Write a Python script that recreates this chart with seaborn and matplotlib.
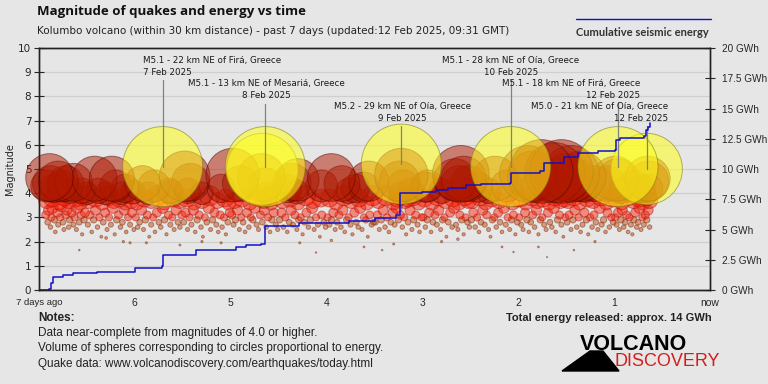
import numpy as np
import pandas as pd
import seaborn as sns
import matplotlib.pyplot as plt
from matplotlib.lines import Line2D
from matplotlib.patches import Polygon

# --- data (time in days relative to "now" = 12 Feb 2025 09:31 GMT) ---

# labelled M5+ quakes
label_t = [-5.71, -4.64, -3.22, -2.08, -0.96, -0.66]
label_m = [5.1, 5.1, 5.2, 5.1, 5.1, 5.0]
label_place = ["22 km NE of Firá", "13 km NE of Mesariá", "29 km NE of Oía",
               "28 km NE of Oía", "18 km NE of Firá", "21 km NE of Oía"]
label_date = ["7 Feb 2025", "8 Feb 2025", "9 Feb 2025",
              "10 Feb 2025", "12 Feb 2025", "12 Feb 2025"]

# other M5 quake (unlabelled)
strong_t = [-4.67]
strong_m = [5.0]

# M4 - M5
large_t = [-6.92, -6.89, -6.88, -6.85, -6.80, -6.76, -6.72, -6.68, -6.64, -6.50,
           -6.42, -6.38, -6.30, -6.24, -6.20, -6.14, -6.02, -5.92, -5.86, -5.80,
           -5.64, -5.62, -5.48, -5.42, -5.45, -5.30, -4.98, -4.90, -4.68, -4.64,
           -4.62, -4.41, -4.36, -4.31, -4.30, -3.95, -3.84, -3.77, -3.61, -3.56,
           -3.24, -3.22, -3.20, -3.23, -3.12, -2.97, -2.95, -2.60, -2.66, -2.62,
           -2.52, -2.42, -2.31, -2.24, -2.12, -1.90, -1.82, -1.76, -1.65, -1.55,
           -1.50, -1.40, -1.30, -1.20, -1.07, -0.99, -0.96, -0.93, -0.65, -0.64,
           -0.64, -1.85, -1.62, -1.45, -1.35, -2.57, -4.05, -5.10, -6.10, -6.55,
           -3.70, -2.80, -0.80, -0.72]
large_m = [4.3, 4.65, 4.4, 4.2, 4.5, 4.3, 4.4, 4.1, 4.45, 4.0,
           4.6, 4.1, 4.0, 4.6, 4.3, 4.0, 4.05, 4.4, 4.0, 4.3,
           4.1, 4.05, 4.7, 4.45, 4.1, 4.0, 4.75, 4.4, 4.65, 4.35,
           4.0, 4.2, 4.45, 4.05, 4.55, 4.65, 4.4, 4.1, 4.25, 4.5,
           4.5, 4.75, 4.3, 4.0, 4.1, 4.25, 4.3, 4.8, 4.55, 4.4,
           4.4, 4.25, 4.1, 4.6, 4.3, 4.8, 4.25, 4.9, 4.4, 4.9,
           4.65, 4.55, 4.25, 4.4, 4.4, 4.6, 4.55, 4.1, 4.6, 4.5,
           4.2, 4.7, 4.85, 4.8, 4.7, 4.6, 4.3, 4.2, 4.2, 4.1,
           4.2, 4.1, 4.3, 4.2]

# M3.5 - M4
mid_t = [-6.92, -6.86, -6.79, -6.74, -6.69, -6.62, -6.57, -6.53,
         -6.48, -6.41, -6.34, -6.28, -6.22, -6.16, -6.10, -6.04,
         -5.98, -5.90, -5.83, -5.76, -5.69, -5.60, -5.53,
         -5.46, -5.38, -5.30, -5.22, -5.14, -5.06, -5.02,
         -4.96, -4.88, -4.80, -4.72, -4.66, -4.60, -4.58, -4.54, -4.62, -4.68,
         -4.46, -4.38, -4.30, -4.22, -4.14, -4.06,
         -3.97, -3.90, -3.82, -3.74, -3.66, -3.58, -3.52,
         -3.46, -3.38, -3.30, -3.26, -3.18, -3.10, -3.04, -3.15,
         -2.98, -2.90, -2.84, -2.76, -2.68, -2.62, -2.56, -2.52,
         -2.48, -2.40, -2.34, -2.28, -2.20, -2.14, -2.06, -2.02,
         -1.98, -1.92, -1.86, -1.80, -1.74, -1.68, -1.62, -1.56, -1.52,
         -1.48, -1.42, -1.36, -1.28, -1.22, -1.14, -1.08, -1.02,
         -0.98, -0.92, -0.86, -0.80, -0.74, -0.70, -0.66, -0.63]
mid_m = [3.7, 3.8, 3.6, 3.9, 3.7, 3.8, 3.6, 3.9,
         3.7, 3.8, 3.6, 3.9, 3.7, 3.8, 3.6, 3.7,
         3.6, 3.8, 3.7, 3.9, 3.6, 3.8, 3.7,
         3.8, 3.6, 3.7, 3.9, 3.7, 3.8, 3.6,
         3.7, 3.8, 3.6, 3.9, 3.7, 3.8, 3.6, 3.9, 3.9, 3.8,
         3.7, 3.8, 3.6, 3.9, 3.7, 3.8,
         3.8, 3.6, 3.9, 3.7, 3.8, 3.6, 3.9,
         3.7, 3.9, 3.6, 3.8, 3.7, 3.9, 3.6, 3.8,
         3.8, 3.6, 3.9, 3.7, 3.8, 3.6, 3.9, 3.7,
         3.7, 3.9, 3.6, 3.8, 3.7, 3.9, 3.6, 3.8,
         3.8, 3.6, 3.9, 3.7, 3.8, 3.6, 3.9, 3.7, 3.8,
         3.7, 3.9, 3.6, 3.8, 3.7, 3.9, 3.6, 3.8,
         3.8, 3.6, 3.9, 3.7, 3.8, 3.6, 3.9, 3.7]

# below M3.5
small_t = [-6.93, -6.91, -6.90, -6.88, -6.87, -6.86, -6.84, -6.83, -6.81, -6.80,
           -6.78, -6.77, -6.75, -6.74, -6.72, -6.71, -6.69, -6.68, -6.66, -6.64,
           -6.63, -6.61, -6.60, -6.58, -6.56, -6.55, -6.53, -6.52,
           -6.49, -6.47, -6.45, -6.43, -6.41, -6.39, -6.37, -6.35, -6.33, -6.31,
           -6.29, -6.27, -6.25, -6.23, -6.21, -6.19, -6.17, -6.15, -6.13, -6.11,
           -6.09, -6.07, -6.05, -6.03, -6.01,
           -5.99, -5.97, -5.95, -5.93, -5.91, -5.89, -5.87, -5.85, -5.83, -5.81,
           -5.79, -5.77, -5.75, -5.73, -5.71, -5.69, -5.67, -5.65, -5.63, -5.61,
           -5.59, -5.57, -5.55, -5.53, -5.51,
           -5.49, -5.47, -5.45, -5.43, -5.41, -5.39, -5.37, -5.35, -5.33, -5.31,
           -5.29, -5.27, -5.25, -5.23, -5.21, -5.19, -5.17, -5.15, -5.13, -5.11,
           -5.09, -5.07, -5.05, -5.03, -5.01,
           -4.99, -4.97, -4.95, -4.93, -4.91, -4.89, -4.87, -4.85, -4.83, -4.81,
           -4.79, -4.77, -4.75, -4.73, -4.71, -4.69, -4.67, -4.65, -4.63, -4.61,
           -4.59, -4.57, -4.55, -4.53, -4.51,
           -4.49, -4.47, -4.45, -4.43, -4.41, -4.39, -4.37, -4.35, -4.33, -4.31,
           -4.29, -4.27, -4.25, -4.23, -4.21, -4.19, -4.17, -4.15, -4.13, -4.11,
           -4.09, -4.07, -4.05, -4.03, -4.01,
           -3.99, -3.97, -3.95, -3.93, -3.91, -3.89, -3.87, -3.85, -3.83, -3.81,
           -3.79, -3.77, -3.75, -3.73, -3.71, -3.69, -3.67, -3.65, -3.63, -3.61,
           -3.59, -3.57, -3.55, -3.53, -3.51,
           -3.49, -3.47, -3.45, -3.43, -3.41, -3.39, -3.37, -3.35, -3.33, -3.31,
           -3.29, -3.27, -3.25, -3.23, -3.21, -3.19, -3.17, -3.15, -3.13, -3.11,
           -3.09, -3.07, -3.05, -3.03, -3.01,
           -2.99, -2.97, -2.95, -2.93, -2.91, -2.89, -2.87, -2.85, -2.83, -2.81,
           -2.79, -2.77, -2.75, -2.73, -2.71, -2.69, -2.67, -2.65, -2.63, -2.61,
           -2.59, -2.57, -2.55, -2.53, -2.51,
           -2.49, -2.47, -2.45, -2.43, -2.41, -2.39, -2.37, -2.35, -2.33, -2.31,
           -2.29, -2.27, -2.25, -2.23, -2.21, -2.19, -2.17, -2.15, -2.13, -2.11,
           -2.09, -2.07, -2.05, -2.03, -2.01,
           -1.99, -1.97, -1.95, -1.93, -1.91, -1.89, -1.87, -1.85, -1.83, -1.81,
           -1.79, -1.77, -1.75, -1.73, -1.71, -1.69, -1.67, -1.65, -1.63, -1.61,
           -1.59, -1.57, -1.55, -1.53, -1.51,
           -1.49, -1.47, -1.45, -1.43, -1.41, -1.39, -1.37, -1.35, -1.33, -1.31,
           -1.29, -1.27, -1.25, -1.23, -1.21, -1.19, -1.17, -1.15, -1.13, -1.11,
           -1.09, -1.07, -1.05, -1.03, -1.01,
           -0.99, -0.975, -0.96, -0.945, -0.93, -0.915, -0.90, -0.885, -0.87, -0.855,
           -0.84, -0.825, -0.81, -0.795, -0.78, -0.765, -0.75, -0.735, -0.72, -0.705,
           -0.69, -0.675, -0.66, -0.645, -0.63]
small_m = [3.1, 2.8, 3.3, 2.6, 3.0, 3.4, 2.9, 2.4, 3.2, 2.7,
           3.0, 3.5, 2.8, 2.5, 3.1, 3.3, 2.6, 2.9, 3.2, 2.7,
           3.0, 2.5, 3.4, 2.8, 3.1, 2.3, 2.9, 3.2,
           2.7, 3.1, 2.4, 2.9, 3.3, 2.6, 3.0, 2.2, 2.8, 3.2,
           2.5, 3.0, 2.7, 3.4, 2.3, 2.9, 3.1, 2.6, 2.8, 3.3,
           2.4, 3.0, 2.7, 3.2, 2.5,
           3.0, 2.6, 2.8, 3.3, 2.5, 2.9, 3.1, 2.2, 2.7, 3.0,
           2.4, 3.2, 2.8, 2.6, 3.4, 2.9, 2.3, 3.1, 2.7, 3.0,
           2.5, 3.3, 2.8, 2.6, 3.1,
           2.8, 3.2, 2.5, 3.0, 2.7, 3.3, 2.4, 2.9, 3.1, 2.6,
           2.2, 3.0, 2.8, 3.4, 2.5, 2.9, 3.2, 2.7, 2.4, 3.1,
           2.6, 3.0, 2.3, 2.8, 3.2,
           3.1, 2.7, 2.9, 3.3, 2.5, 3.0, 2.8, 2.4, 3.2, 2.6,
           3.0, 2.9, 3.4, 2.7, 2.5, 3.1, 2.8, 3.3, 2.6, 3.0,
           2.4, 2.9, 3.2, 2.7, 2.5,
           2.9, 3.2, 2.6, 3.0, 2.4, 2.8, 3.3, 2.7, 3.1, 2.5,
           2.9, 3.0, 2.3, 2.8, 3.2, 2.6, 2.9, 3.4, 2.5, 3.0,
           2.7, 2.2, 3.1, 2.8, 2.6,
           3.0, 2.7, 2.9, 3.2, 2.5, 2.8, 3.1, 2.6, 3.3, 2.4,
           2.9, 3.0, 2.7, 2.3, 3.2, 2.8, 2.6, 3.4, 2.5, 3.0,
           2.9, 2.2, 3.1, 2.7, 2.8,
           2.8, 3.1, 2.5, 2.9, 3.3, 2.6, 3.0, 2.4, 2.8, 3.2,
           2.7, 3.4, 2.9, 3.1, 2.6, 3.0, 2.3, 2.8, 3.3, 2.5,
           2.9, 3.1, 2.7, 2.4, 3.0,
           3.0, 2.6, 2.9, 3.2, 2.4, 2.8, 3.1, 2.7, 3.3, 2.5,
           2.9, 3.0, 2.2, 2.8, 3.2, 2.6, 3.4, 2.7, 2.5, 3.1,
           2.9, 2.3, 3.0, 2.8, 2.6,
           2.9, 3.2, 2.6, 3.0, 2.4, 2.8, 3.3, 2.7, 3.1, 2.5,
           2.2, 2.9, 3.0, 2.6, 3.2, 2.8, 2.4, 3.4, 2.7, 3.0,
           2.5, 2.9, 3.1, 2.3, 2.8,
           3.0, 2.7, 2.5, 3.2, 2.9, 2.4, 2.8, 3.1, 2.6, 3.3,
           2.3, 2.9, 3.0, 2.7, 2.5, 3.2, 2.8, 2.6, 3.4, 2.4,
           2.9, 3.1, 2.7, 2.2, 3.0,
           2.8, 3.1, 2.5, 2.9, 3.3, 2.6, 3.0, 2.4, 2.7, 3.2,
           2.9, 2.3, 3.0, 2.6, 3.1, 2.8, 2.5, 3.4, 2.7, 2.9,
           2.4, 3.2, 2.6, 3.0, 2.8,
           3.0, 2.7, 3.2, 2.5, 2.9, 3.3, 2.6, 2.8, 3.1, 2.4,
           3.0, 2.7, 2.3, 2.9, 3.2, 2.6, 2.8, 3.4, 2.5, 3.0,
           2.7, 3.1, 2.9, 3.3, 2.6]

# isolated weak quakes
weak_t = [-6.58, -6.30, -6.12, -6.05, -5.88, -5.53, -5.30, -5.10, -4.28, -4.11, -3.95,
          -3.61, -3.42, -3.30, -2.80, -2.63, -2.17, -2.05, -1.79, -1.70, -1.42, -1.20]
weak_m = [1.65, 2.15, 2.0, 1.95, 1.95, 1.86, 2.0, 1.95, 1.95, 1.55, 2.05,
          1.78, 1.65, 1.9, 2.0, 2.1, 1.78, 1.57, 1.78, 1.36, 1.65, 2.0]

# cumulative seismic energy (GWh), step curve
energy_t = [-7.0, -6.90, -6.87, -6.85, -6.75, -6.65, -6.40, -6.00, -5.72, -5.71,
            -5.36, -4.95, -4.94, -4.84, -4.68, -4.64, -4.29, -3.77, -3.49, -3.28,
            -3.23, -3.00, -2.86, -2.73, -2.55, -2.39, -2.09, -2.08, -1.77, -1.73,
            -1.52, -1.38, -1.17, -0.99, -0.98, -0.94, -0.69, -0.67, -0.65, -0.63]
energy_gwh = [0.0, 0.1, 0.6, 1.1, 1.2, 1.4, 1.5, 1.8, 2.0, 2.9,
              3.3, 3.3, 3.56, 3.76, 3.8, 5.3, 5.5, 5.7, 5.94, 6.2,
              8.0, 8.1, 8.24, 8.4, 8.66, 8.8, 8.84, 9.66, 9.84, 10.48,
              11.0, 11.3, 11.5, 11.6, 12.4, 12.6, 12.74, 13.2, 13.5, 13.8]

x_ticks = [-7, -6, -5, -4, -3, -2, -1, 0]
x_labels = ["7 days ago", "6", "5", "4", "3", "2", "1", "now"]
gwh_ticks = [0, 2.5, 5, 7.5, 10, 12.5, 15, 17.5, 20]

# --- build table ---
quakes = pd.DataFrame({
    "t": small_t + weak_t + mid_t + large_t + strong_t + label_t,
    "m": small_m + weak_m + mid_m + large_m + strong_m + label_m,
})
# circle area ~ energy^(2/3)
quakes["area"] = 10 ** quakes["m"]
quakes = quakes.sort_values("m")

BG = "#e6e6e6"
sns.set_style("white")
plt.rcParams["font.family"] = ["DejaVu Sans"]
NARROW = ["Liberation Sans", "DejaVu Sans"]


def fx(x):
    return x / 768


def fy(y):
    return 1 - y / 384


fig = plt.figure(figsize=(7.68, 3.84), dpi=100)
fig.patch.set_facecolor(BG)
ax = fig.add_axes([fx(39), 1 - 290 / 384, (710 - 39) / 768, (290 - 48) / 384])
ax.set_facecolor(BG)

# magnitude classes: colour / edge / alpha
classes = [
    (quakes["m"] < 3.0, "#c4501c", "#7a2a08", 0.5),
    ((quakes["m"] >= 3.0) & (quakes["m"] < 4.0), "#ff1800", "#a01000", 0.45),
    ((quakes["m"] >= 4.0) & (quakes["m"] < 5.0), "#b01800", "#4a0800", 0.5),
    (quakes["m"] >= 5.0, "#ffff1a", "#7a7a10", 0.55),
]
for sel, face, edge, a in classes:
    sub = quakes[sel]
    sns.scatterplot(data=sub, x="t", y="m", size="area", sizes=(0, 3318),
                    size_norm=(0, 10 ** 5.1), color=face, edgecolor=edge,
                    linewidth=0.7, alpha=a, legend=False, ax=ax, zorder=3,
                    clip_on=False)

ax.set_xlim(-7, 0)
ax.set_ylim(0, 10)
ax.set_yticks(range(0, 11))
ax.yaxis.grid(True, color="#cfcfcf", lw=0.9)
ax.set_axisbelow(True)
ax.set_xlabel("")
ax.set_ylabel("Magnitude", fontsize=7, labelpad=2)
ax.set_xticks(x_ticks, x_labels)
for lab in ax.get_xticklabels():
    lab.set_family(NARROW)
    lab.set_fontsize(7.5 if lab.get_text() != "7 days ago" else 6.8)
ax.tick_params(axis="y", direction="inout", length=7, width=0.8, labelsize=7.5, pad=2)
ax.tick_params(axis="x", direction="inout", length=7, width=0.8, pad=2)
for s in ax.spines.values():
    s.set_color("#222222")
    s.set_linewidth(1.0)

# annotations for the big ones
label_box = [(143, 56, "left", 80), (266, 79, "center", 104), (402, 102, "center", 126),
             (511, 56, "center", 80), (640, 79, "right", 102), (668, 102, "right", 126)]
for t, m, place, date, (px, py, ha, ltop) in zip(label_t, label_m, label_place,
                                                 label_date, label_box):
    top = (290 - ltop) / 24.2
    ax.plot([t, t], [m, top], color="#808080", lw=0.9, zorder=6)
    fig.text(fx(px), fy(py), f"M{m:.1f} - {place}, Greece\n{date}", ha=ha, va="top",
             fontsize=6.3, color="#1a1a1a", linespacing=1.42)

# cumulative energy on twin axis
ax2 = ax.twinx()
ax2.patch.set_visible(False)
sns.lineplot(x=energy_t, y=energy_gwh, ax=ax2, drawstyle="steps-post",
             color="#1010c8", lw=1.1, estimator=None)
ax2.set_ylim(0, 20)
ax2.set_yticks(gwh_ticks, [f"{v:g} GWh" for v in gwh_ticks])
ax2.tick_params(axis="y", direction="inout", length=7, width=0.8, labelsize=7.2, pad=5)
for lab in ax2.get_yticklabels():
    lab.set_family(NARROW)
ax2.set_ylabel("")
for s in ax2.spines.values():
    s.set_color("#222222")
    s.set_linewidth(1.0)

# titles and legend
fig.text(fx(37), fy(12), "Magnitude of quakes and energy vs time", ha="left", va="center",
         fontsize=9.5, weight="bold", family=["Open Sans", "DejaVu Sans"], color="#111111")
fig.text(fx(37), fy(31), "Kolumbo volcano (within 30 km distance) - past 7 days "
         "(updated:12 Feb 2025, 09:31 GMT)", ha="left", va="center", fontsize=7.5,
         color="#222222")
fig.add_artist(Line2D([fx(576), fx(711)], [fy(19), fy(19)], color="#1010c8", lw=1))
fig.text(fx(576), fy(32), "Cumulative seismic energy", ha="left", va="center",
         fontsize=8, weight="bold", family=["Lato", "DejaVu Sans"], color="#333333")

# notes
fig.text(fx(38), fy(318), "Notes:", ha="left", va="center", fontsize=8.5,
         weight="bold", family=NARROW, color="#222222")
notes = ["Data near-complete from magnitudes of 4.0 or higher.",
         "Volume of spheres corresponding to circles proportional to energy.",
         "Quake data: www.volcanodiscovery.com/earthquakes/today.html"]
for i, n in enumerate(notes):
    fig.text(fx(38), fy(333 + 15.5 * i), n, ha="left", va="center", fontsize=8.5,
             family=NARROW, color="#222222")
fig.text(fx(506), fy(318), "Total energy released: approx. 14 GWh", ha="left", va="center",
         fontsize=8.0, weight="bold", family=NARROW, color="#222222")

# logo
fig.add_artist(Polygon([(fx(562), fy(371)), (fx(590), fy(351)), (fx(603), fy(351)),
                        (fx(619), fy(371))], closed=True, color="black",
                       transform=fig.transFigure))
fig.text(fx(580), fy(345), "VOLCANO", ha="left", va="center", fontsize=15.5,
         weight="bold", family=["Liberation Sans", "DejaVu Sans"], color="black")
fig.text(fx(614), fy(362), "DISCOVERY", ha="left", va="center", fontsize=13,
         family=["Liberation Sans", "DejaVu Sans"], color="#d41e1e")

fig.savefig("out.png", dpi=100, facecolor=BG)
